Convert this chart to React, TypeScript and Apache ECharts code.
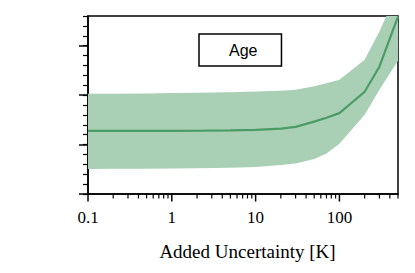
import React, { useEffect, useRef } from 'react';
import * as echarts from 'echarts';

// Added uncertainty [K] (log axis)
const xValues = [0.1, 0.2, 0.5, 1, 2, 5, 10, 20, 30, 50, 70, 100, 200, 300, 500];
// Age: mean curve and band bounds
const ageMean = [1.277, 1.277, 1.277, 1.277, 1.279, 1.285, 1.297, 1.324, 1.358, 1.464, 1.541, 1.636, 2.068, 2.574, 3.588];
const ageUpper = [2.027, 2.029, 2.033, 2.041, 2.048, 2.06, 2.072, 2.088, 2.108, 2.179, 2.24, 2.311, 2.716, 3.284, 4.135];
const ageLower = [0.507, 0.509, 0.512, 0.517, 0.522, 0.533, 0.547, 0.588, 0.618, 0.71, 0.821, 1.014, 1.601, 2.108, 2.696];

const seriesName = 'Age';
const xAxisTitle = 'Added Uncertainty [K]';
const xMajorTicks = [0.1, 1, 10, 100];
const xTickLabels = ['0.1', '1', '10', '100'];
const xMinorTicks = [
  0.2, 0.3, 0.4, 0.5, 0.6, 0.7, 0.8, 0.9,
  2, 3, 4, 5, 6, 7, 8, 9,
  20, 30, 40, 50, 60, 70, 80, 90,
  200, 300, 400, 500,
];
const yMajorTicks = [0, 1, 2, 3];

const BAND = '#a9cfb5';
const LINE = '#4a9b66';

export default function App() {
  const ref = useRef<HTMLDivElement>(null);
  useEffect(() => {
    if (!ref.current) return;
    const chart = echarts.init(ref.current, undefined, { renderer: 'svg' });
    const tickData = [
      ...xMajorTicks.map((v) => [v, 0, 7.5]),
      ...xMinorTicks.map((v) => [v, 0, 4.5]),
    ];
    chart.setOption({
      animation: false,
      backgroundColor: '#fff',
      grid: {
        left: 88,
        right: 17,
        top: 16,
        bottom: 79,
        show: true,
        borderColor: '#000',
        borderWidth: 1.5,
        backgroundColor: 'transparent',
      },
      legend: {
        data: [{ name: seriesName, icon: 'none' }],
        left: 199,
        top: 34,
        padding: [8, 24, 8, 25],
        itemWidth: 0,
        itemHeight: 14,
        itemGap: 0,
        borderColor: '#000',
        borderWidth: 1.5,
        selectedMode: false,
        textStyle: { fontFamily: 'Liberation Sans', fontSize: 16, color: '#000' },
      },
      xAxis: {
        type: 'log',
        logBase: 10,
        min: 0.1,
        max: 500,
        name: xAxisTitle,
        nameLocation: 'middle',
        nameGap: 48,
        nameTextStyle: { fontFamily: 'Liberation Serif', fontSize: 19, color: '#000', padding: [0, 0, 0, 9] },
        axisLine: { show: true, lineStyle: { color: '#000', width: 1.5 } },
        axisTick: { show: false },
        splitLine: { show: false },
        axisLabel: {
          fontFamily: 'Liberation Serif',
          fontSize: 17,
          color: '#000',
          margin: 15,
          showMaxLabel: false,
          formatter: (v: number) => {
            const i = xMajorTicks.findIndex((t) => Math.abs(Math.log10(t) - Math.log10(v)) < 1e-6);
            return i >= 0 ? xTickLabels[i] : '';
          },
        },
      },
      yAxis: [
        {
          type: 'value',
          min: 0,
          max: 3.6,
          interval: 1,
          axisLine: { show: true, lineStyle: { color: '#000', width: 1.5 } },
          axisTick: { show: true, length: 9, lineStyle: { color: '#000', width: 1.5 }, customValues: yMajorTicks },
          axisLabel: { show: false },
          splitLine: { show: false },
        },
        {
          type: 'value',
          min: 0,
          max: 3.6,
          interval: 0.2,
          position: 'left',
          axisLine: { show: false },
          axisTick: { show: true, length: 5, lineStyle: { color: '#000', width: 1.2 } },
          axisLabel: { show: false },
          splitLine: { show: false },
        },
      ],
      series: [
        {
          type: 'custom',
          name: 'band',
          silent: true,
          clip: true,
          data: [[xValues[0], ageLower[0]]],
          z: 1,
          renderItem: (params: any, api: any) => {
            const top = xValues.map((x, i) => api.coord([x, ageUpper[i]]));
            const bot = xValues.map((x, i) => api.coord([x, ageLower[i]])).reverse();
            return {
              type: 'polygon',
              shape: { points: [...top, ...bot] },
              style: { fill: BAND, stroke: 'none' },
            };
          },
        },
        {
          type: 'line',
          name: seriesName,
          symbol: 'none',
          lineStyle: { color: LINE, width: 2.2 },
          itemStyle: { color: LINE },
          data: xValues.map((x, i) => [x, ageMean[i]]),
          z: 2,
        },
        {
          type: 'custom',
          name: 'ticks',
          silent: true,
          clip: false,
          data: tickData,
          z: 5,
          renderItem: (params: any, api: any) => {
            const p = api.coord([api.value(0), api.value(1)]);
            const len = api.value(2);
            return {
              type: 'line',
              shape: { x1: p[0], y1: p[1], x2: p[0], y2: p[1] + len },
              style: { stroke: '#000', lineWidth: len > 5 ? 1.5 : 1.2 },
            };
          },
        },
      ],
    });
    return () => chart.dispose();
  }, []);
  return <div ref={ref} style={{ width: 415, height: 273, position: 'absolute', left: 0, top: 0 }} />;
}
